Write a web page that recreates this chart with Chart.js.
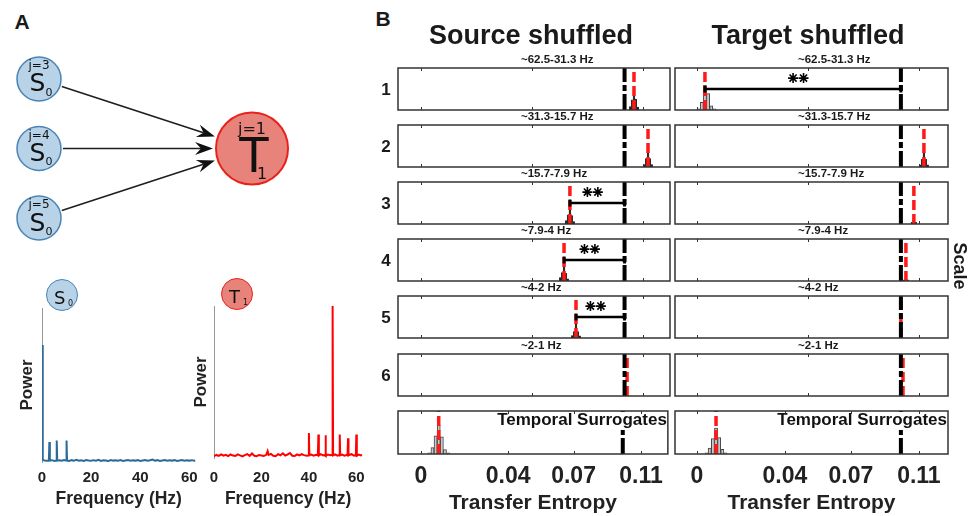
<!DOCTYPE html>
<html>
<head>
<meta charset="utf-8">
<title>Scale-resolved transfer entropy</title>
<script src="https://cdn.jsdelivr.net/npm/chart.js@4.4.1/dist/chart.umd.min.js"></script>
<style>
  body { margin: 0; background: #fff; }
  #page { position: relative; width: 979px; height: 516px; overflow: hidden; background: #fff;
          font-family: "Liberation Sans", Arial, sans-serif; color: #1a1a1a; }
  .cv, .txt, .bubble, .bubble span { position: absolute; }
  .txt { font-weight: bold; white-space: nowrap; line-height: 1; }
  .bubble { border-radius: 50%; box-sizing: border-box; font-family: "DejaVu Sans", sans-serif; color: #111; line-height: 1; }
</style>
</head>
<body>
<div id="page"></div>
<script>
// ---- panel A: network ----
const nodeNames = ['S', 'S', 'S', 'T'];
const nodeLevels = ['j=3', 'j=4', 'j=5', 'j=1'];
const nodeSubs = ['0', '0', '0', '1'];
const nodeX = [0, 0, 0, 1];
const nodeY = [3, 2, 1, 2];
const diagramEdges = [[0, 3], [1, 3], [2, 3]];

// ---- panel A: power spectra [frequency Hz, power] ----
const freqTicks = [0, 20, 40, 60];
const s0Spectrum = [
  [0, 76], [0.3, 1.5], [1, 1.0], [2, 0.8], [2.8, 0.9], [3, 13], [3.2, 1.0], [4, 1.2], [5, 0.7],
  [5.8, 1.0], [6, 14], [6.2, 0.9], [7, 1.1], [8, 0.8], [9, 1.3], [9.8, 0.9], [10, 14], [10.2, 1.0],
  [11, 0.6], [12, 1.2], [13, 0.9], [14, 1.4], [15, 0.8], [16, 1.1], [17, 0.7], [18, 1.3], [19, 1.0],
  [20, 0.8], [21, 1.2], [22, 0.9], [23, 1.4], [24, 0.7], [25, 1.1], [26, 1.0], [27, 0.6], [28, 1.3],
  [29, 0.9], [30, 1.1], [31, 0.8], [32, 1.2], [33, 0.7], [34, 1.0], [35, 1.3], [36, 0.8], [37, 1.1],
  [38, 0.9], [39, 1.2], [40, 0.7], [41, 1.0], [42, 1.3], [43, 0.8], [44, 1.1], [45, 1.6], [46, 0.9],
  [47, 1.2], [48, 0.7], [49, 1.0], [50, 1.3], [51, 0.8], [52, 1.1], [53, 0.9], [54, 1.2], [55, 0.7],
  [56, 1.0], [57, 1.3], [58, 0.8], [59, 1.1], [60, 0.9], [61, 1.2], [62, 0.8], [62.5, 1.0]
];
const t1Spectrum = [
  [0, 1.2], [1, 2.0], [2, 1.4], [3, 2.4], [4, 1.5], [5, 2.1], [6, 1.2], [7, 2.3], [8, 1.6], [9, 1.3],
  [10, 2.4], [11, 1.7], [12, 1.1], [13, 1.9], [14, 2.6], [15, 1.4], [16, 3.0], [17, 1.5], [18, 1.2],
  [19, 2.0], [20, 1.7], [21, 1.3], [22, 2.1], [22.6, 4.5], [23, 2.0], [24, 2.7], [25, 1.5], [26, 1.2],
  [27, 2.5], [28, 1.8], [29, 3.1], [30, 1.6], [31, 2.3], [32, 3.3], [33, 1.5], [34, 1.3], [35, 2.4],
  [36, 1.7], [37, 2.5], [38, 1.9], [39, 1.5], [39.8, 1.7], [40, 16.5], [40.2, 1.9], [41, 2.3], [42, 1.5],
  [43, 2.1], [43.8, 1.8], [44, 15.5], [44.2, 1.6], [45, 2.5], [46, 1.7], [46.8, 2.0], [47, 15], [47.2, 1.5],
  [48, 2.2], [49, 1.8], [49.8, 2.1], [50, 100], [50.2, 1.7], [51, 2.4], [52, 1.6], [52.8, 2.0], [53, 15.5],
  [53.2, 1.8], [54, 2.3], [55, 1.5], [56.3, 2.1], [56.5, 13], [56.7, 1.7], [57, 2.0], [58, 2.5], [59, 1.6],
  [59.8, 1.9], [60, 15.5], [60.2, 1.5], [61, 2.2], [62, 1.7], [62.5, 2.0]
];

// ---- panel B: transfer entropy ----
const scaleNumbers = ['1', '2', '3', '4', '5', '6'];
const scaleBands = ['~62.5-31.3 Hz', '~31.3-15.7 Hz', '~15.7-7.9 Hz', '~7.9-4 Hz', '~4-2 Hz', '~2-1 Hz'];
const panelTicks = [0, 0.053, 0.106];
const teTicks = [0, 0.042, 0.0735, 0.106];
const teTickLabels = ['0', '0.04', '0.07', '0.11'];

// rows: scales 1-6, then temporal surrogates
const srcObserved  = [0.0972, 0.0972, 0.0972, 0.0972, 0.0972, 0.0972, 0.0972];
const srcSurrogate = [0.1017, 0.1084, 0.0711, 0.0683, 0.0740, 0.0984, 0.0086];
const srcStars     = [0, 0, 2, 2, 2, 0, 0];
const srcHist = [
  [[0.0999, 0.8], [0.1008, 2.4], [0.1017, 5.0], [0.1026, 2.6], [0.1035, 0.7]],
  [[0.1066, 0.6], [0.1075, 2.0], [0.1084, 4.8], [0.1093, 2.0], [0.1102, 0.6]],
  [[0.0693, 0.8], [0.0702, 2.2], [0.0711, 4.5], [0.0720, 2.0], [0.0729, 0.6]],
  [[0.0665, 0.8], [0.0674, 2.0], [0.0683, 4.0], [0.0692, 1.8], [0.0701, 0.5]],
  [[0.0722, 0.6], [0.0731, 1.5], [0.0740, 3.5], [0.0749, 1.5], [0.0758, 0.5]],
  [],
  [[0.0041, 0.3], [0.0056, 1.5], [0.0071, 4.2], [0.0086, 6.7], [0.0101, 4.0], [0.0116, 1.0], [0.0131, 0.3]]
];

const tgtObserved  = [0.0974, 0.0974, 0.0974, 0.0974, 0.0974, 0.0974, 0.0974];
const tgtSurrogate = [0.0038, 0.1084, 0.1036, 0.0998, 0.0974, 0.0984, 0.0091];
const tgtStars     = [2, 0, 0, 0, 0, 0, 0];
const tgtHist = [
  [[0.0008, 0.3], [0.0023, 1.8], [0.0038, 5.8], [0.0053, 3.9], [0.0068, 1.0], [0.0083, 0.3]],
  [[0.1066, 0.5], [0.1075, 1.8], [0.1084, 4.2], [0.1093, 1.8], [0.1102, 0.5]],
  [[0.1027, 0.4], [0.1036, 1.6], [0.1045, 0.4]],
  [[0.0989, 0.3], [0.0998, 0.9], [0.1007, 0.3]],
  [],
  [],
  [[0.0046, 0.3], [0.0061, 1.4], [0.0076, 3.6], [0.0091, 6.0], [0.0106, 3.8], [0.0121, 1.1], [0.0136, 0.3]]
];

Chart.defaults.font.family = '"Liberation Sans", Arial, sans-serif';
Chart.defaults.color = '#1a1a1a';
Chart.defaults.layout.autoPadding = false;

const page = document.getElementById('page');

function addCanvas(left, top, width, height) {
  const div = document.createElement('div');
  div.className = 'cv';
  Object.assign(div.style, { left: left + 'px', top: top + 'px', width: width + 'px', height: height + 'px' });
  const cv = document.createElement('canvas');
  div.appendChild(cv);
  page.appendChild(div);
  return cv;
}

function addText(text, x, y, size, align, rotate) {
  const el = document.createElement('div');
  el.className = 'txt';
  el.textContent = text;
  el.style.left = x + 'px';
  el.style.top = y + 'px';
  el.style.fontSize = size + 'px';
  const tx = align === 'left' ? '0' : '-50%';
  el.style.transform = 'translate(' + tx + ', -50%)' + (rotate ? ' rotate(' + rotate + 'deg)' : '');
  page.appendChild(el);
}

function addBubble(cx, cy, r, fill, stroke, letter, sub) {
  const el = document.createElement('div');
  el.className = 'bubble';
  Object.assign(el.style, {
    left: (cx - r) + 'px', top: (cy - r) + 'px', width: 2 * r + 'px', height: 2 * r + 'px',
    background: fill, border: '1.5px solid ' + stroke
  });
  el.innerHTML = '<span style="left:' + (r - 9) + 'px;top:' + (r - 7) + 'px;font-size:18px">' + letter +
    '</span><span style="left:' + (r + 5) + 'px;top:' + (r + 4) + 'px;font-size:8px">' + sub + '</span>';
  page.appendChild(el);
}

// ---------- panel A: network diagram ----------
const graphPlugin = {
  id: 'graph',
  beforeDatasetsDraw(chart) {
    const pts = chart.getDatasetMeta(0).data;
    const ctx = chart.ctx;
    ctx.save();
    ctx.strokeStyle = '#1e1e1e';
    ctx.fillStyle = '#111';
    ctx.lineWidth = 1.6;
    diagramEdges.forEach(([a, b]) => {
      const p = pts[a], q = pts[b];
      const ra = p.options.radius, rb = q.options.radius;
      const dx = q.x - p.x, dy = q.y - p.y, len = Math.hypot(dx, dy);
      const ux = dx / len, uy = dy / len, nx = -uy, ny = ux;
      const sx = p.x + ux * (ra + 2), sy = p.y + uy * (ra + 2);
      const tx = q.x - ux * (rb + 3), ty = q.y - uy * (rb + 3);
      ctx.beginPath();
      ctx.moveTo(sx, sy);
      ctx.lineTo(tx - ux * 12, ty - uy * 12);
      ctx.stroke();
      ctx.beginPath();
      ctx.moveTo(tx, ty);
      ctx.lineTo(tx - ux * 18 + nx * 6.5, ty - uy * 18 + ny * 6.5);
      ctx.lineTo(tx - ux * 12, ty - uy * 12);
      ctx.lineTo(tx - ux * 18 - nx * 6.5, ty - uy * 18 - ny * 6.5);
      ctx.closePath();
      ctx.fill();
    });
    ctx.restore();
  },
  afterDatasetsDraw(chart) {
    const pts = chart.getDatasetMeta(0).data;
    const ctx = chart.ctx;
    ctx.save();
    ctx.fillStyle = '#111';
    ctx.textAlign = 'center';
    ctx.textBaseline = 'middle';
    pts.forEach((p, i) => {
      const big = nodeNames[i] === 'T';
      const st = big
        ? { j: [0, -19, 16], m: [2, 11, 48], s: [10, 26, 16] }
        : { j: [0, -13, 12], m: [-1.5, 6, 25], s: [10, 14, 11] };
      ctx.font = st.j[2] + 'px "DejaVu Sans"';
      ctx.fillText(nodeLevels[i], p.x + st.j[0], p.y + st.j[1]);
      ctx.font = st.m[2] + 'px "DejaVu Sans"';
      ctx.fillText(nodeNames[i], p.x + st.m[0], p.y + st.m[1]);
      ctx.font = st.s[2] + 'px "DejaVu Sans"';
      ctx.fillText(nodeSubs[i], p.x + st.s[0], p.y + st.s[1]);
    });
    ctx.restore();
  }
};

new Chart(addCanvas(0, 40, 320, 220), {
  type: 'scatter',
  data: {
    datasets: [{
      data: nodeX.map((x, i) => ({ x, y: nodeY[i] })),
      pointRadius: nodeNames.map(n => n === 'T' ? 36 : 22),
      pointBackgroundColor: nodeNames.map(n => n === 'T' ? '#e8837b' : '#b8d3e8'),
      pointBorderColor: nodeNames.map(n => n === 'T' ? '#e8231b' : '#4a84b4'),
      pointBorderWidth: nodeNames.map(n => n === 'T' ? 2 : 1.5),
      clip: false
    }]
  },
  options: {
    responsive: true, maintainAspectRatio: false, animation: false, events: [],
    layout: { padding: 0, autoPadding: false },
    plugins: { legend: { display: false }, tooltip: { enabled: false } },
    scales: {
      x: { type: 'linear', min: -0.1831, max: 1.3192, display: false },
      y: { type: 'linear', min: 0.396, max: 3.561, display: false }
    }
  },
  plugins: [graphPlugin]
});

// ---------- panel A: spectra ----------
function spectrumChart(canvas, points, color, layout) {
  return new Chart(canvas, {
    type: 'line',
    data: {
      datasets: [{
        data: points.map(([x, y]) => ({ x, y })),
        borderColor: color, borderWidth: 2, pointRadius: 0, tension: 0
      }]
    },
    options: {
      responsive: true, maintainAspectRatio: false, animation: false, events: [],
      layout: { padding: { top: 8, right: 8, left: 0, bottom: 0 }, autoPadding: false },
      plugins: { legend: { display: false }, tooltip: { enabled: false } },
      scales: {
        x: {
          type: 'linear', min: 0, max: 62.5,
          afterBuildTicks: s => { s.ticks = freqTicks.map(v => ({ value: v })); },
          grid: { display: false, drawTicks: false }, border: { display: false },
          ticks: { font: { size: 15, weight: 'bold' }, color: '#222', padding: layout.tickPad, maxRotation: 0, autoSkip: false },
          title: { display: true, text: 'Frequency (Hz)', font: { size: 17.5, weight: 'bold' }, color: '#222', padding: { top: 0, bottom: 6 } },
          afterFit: s => { s.height = layout.axisH; }
        },
        y: {
          type: 'linear', min: 0, max: 100,
          grid: { display: false, drawTicks: false }, border: { display: true, color: '#999', width: 1 },
          ticks: { display: false },
          title: { display: true, text: 'Power', font: { size: 17, weight: 'bold' }, color: '#222', padding: { top: layout.titlePad, bottom: 0 } },
          afterFit: s => { s.width = 42; }
        }
      }
    }
  });
}

spectrumChart(addCanvas(0, 300, 205, 216), s0Spectrum, '#2b6b97', { tickPad: 7, axisH: 54, titlePad: 17 });
spectrumChart(addCanvas(172, 298, 204, 218), t1Spectrum, '#ff0000', { tickPad: 11, axisH: 58, titlePad: 19 });
addBubble(62, 295, 16, '#b8d3e8', '#4a84b4', 'S', '0');
addBubble(237, 294, 16, '#e8837b', '#e8231b', 'T', '1');

// ---------- panel B ----------
const framePlugin = {
  id: 'frame',
  afterDraw(chart, args, opts) {
    const { ctx, chartArea: a } = chart;
    const x = chart.scales.x;
    ctx.save();
    ctx.strokeStyle = '#333';
    ctx.lineWidth = 1.5;
    ctx.strokeRect(a.left, a.top, a.width, a.height);
    ctx.lineWidth = 1;
    (opts.ticks || []).forEach(v => {
      const px = Math.round(x.getPixelForValue(v)) + 0.5;
      ctx.beginPath();
      ctx.moveTo(px, a.top); ctx.lineTo(px, a.top + 3);
      ctx.moveTo(px, a.bottom); ctx.lineTo(px, a.bottom - 3);
      ctx.stroke();
    });
    ctx.restore();
  }
};

const cornerTextPlugin = {
  id: 'cornerText',
  afterDatasetsDraw(chart, args, opts) {
    if (!opts.text) return;
    const { ctx, chartArea: a } = chart;
    ctx.save();
    ctx.font = 'bold 17px "Liberation Sans", Arial, sans-serif';
    const w = ctx.measureText(opts.text).width;
    ctx.fillStyle = '#fff';
    ctx.fillRect(a.right - w - 3, a.top + 1, w + 2, 18);
    ctx.fillStyle = '#111';
    ctx.textAlign = 'right';
    ctx.textBaseline = 'middle';
    ctx.fillText(opts.text, a.right - 1, a.top + 9);
    ctx.restore();
  }
};

const columns = [
  { left: 398, width: 272, xMin: -0.0110, xMax: 0.1189, observed: srcObserved, surrogate: srcSurrogate,
    stars: srcStars, hist: srcHist, lightRows: [6], bandX: 521 },
  { left: 675, width: 273, xMin: -0.0105, xMax: 0.1199, observed: tgtObserved, surrogate: tgtSurrogate,
    stars: tgtStars, hist: tgtHist, lightRows: [0, 6], bandX: 798 }
];
const rowTops = [68, 125, 182, 239, 296, 354];
const panelH = 42;
const temporalTop = 411;

function tePanel(canvas, col, i, temporal) {
  const obs = col.observed[i], sur = col.surrogate[i];
  const light = col.lightRows.includes(i);
  const datasets = [
    {
      type: 'bar', data: col.hist[i].map(([x, y]) => ({ x, y })),
      backgroundColor: light ? '#c9c9c9' : '#1e1e1e', borderColor: '#444', borderWidth: light ? 1 : 0.5,
      barPercentage: 1, categoryPercentage: 1, grouped: false, order: 5
    },
    {
      type: 'line', data: [{ x: sur, y: 0 }, { x: sur, y: 10 }],
      borderColor: '#ff1a1a', borderWidth: 3.5, borderDash: [10, 4], pointRadius: 0, order: 4
    },
    {
      type: 'line', data: [{ x: obs, y: 0 }, { x: obs, y: 10 }],
      borderColor: '#000', borderWidth: 4, borderDash: [16, 3, 6, 3], pointRadius: 0, order: 3
    }
  ];
  if (col.stars[i]) {
    const mid = (obs + sur) / 2 - 0.0022;
    const starXs = [];
    for (let k = 0; k < col.stars[i]; k++) starXs.push(mid + (k - (col.stars[i] - 1) / 2) * 0.005);
    datasets.push({
      type: 'line', data: [{ x: sur, y: 5 }, { x: obs, y: 5 }],
      borderColor: '#000', borderWidth: 2.5, pointStyle: 'line', rotation: 90,
      pointRadius: 3.5, pointBorderWidth: 3, pointBorderColor: '#000', order: 2
    });
    datasets.push({
      type: 'line', data: starXs.map(x => ({ x, y: 7.6 })), showLine: false,
      pointStyle: 'star', pointRadius: 5, pointBorderWidth: 1.6, pointBorderColor: '#000', order: 1
    });
  }

  const xScale = temporal ? {
    type: 'linear', min: col.xMin, max: col.xMax, offset: false,
    afterBuildTicks: s => { s.ticks = teTicks.map(v => ({ value: v })); },
    grid: { display: false, drawTicks: false }, border: { display: false },
    ticks: { callback: (v, idx) => teTickLabels[idx], font: { size: 23, weight: 'bold' }, color: '#222',
             padding: 9, autoSkip: false, maxRotation: 0 },
    title: { display: true, text: 'Transfer Entropy', font: { size: 21, weight: 'bold' }, color: '#222', padding: 0 },
    afterFit: s => { s.height = 62; }
  } : { type: 'linear', min: col.xMin, max: col.xMax, offset: false, display: false };

  return new Chart(canvas, {
    type: 'bar',
    data: { datasets },
    options: {
      responsive: true, maintainAspectRatio: false, animation: false, events: [],
      layout: { padding: temporal ? { top: 2, left: 2, right: 2, bottom: 0 } : 2, autoPadding: false },
      plugins: {
        legend: { display: false }, tooltip: { enabled: false },
        frame: { ticks: temporal ? teTicks : panelTicks },
        cornerText: { text: temporal ? 'Temporal Surrogates' : '' }
      },
      scales: { x: xScale, y: { type: 'linear', min: 0, max: 10, display: false } }
    },
    plugins: [framePlugin, cornerTextPlugin]
  });
}

columns.forEach(col => {
  rowTops.forEach((top, i) => {
    tePanel(addCanvas(col.left - 2, top - 2, col.width + 4, panelH + 4), col, i, false);
    addText(scaleBands[i], col.bandX, top - 8, 11.5, 'left');
  });
  tePanel(addCanvas(col.left - 2, temporalTop - 2, col.width + 4, 516 - temporalTop + 2), col, 6, true);
});

rowTops.forEach((top, i) => addText(scaleNumbers[i], 386, top + 21, 17));

// titles
addText('A', 22, 21, 21);
addText('B', 383, 18, 21);
addText('Source shuffled', 531, 35, 27);
addText('Target shuffled', 808, 35, 27);
addText('Scale', 960, 266, 18, 'center', 90);
</script>
</body>
</html>
